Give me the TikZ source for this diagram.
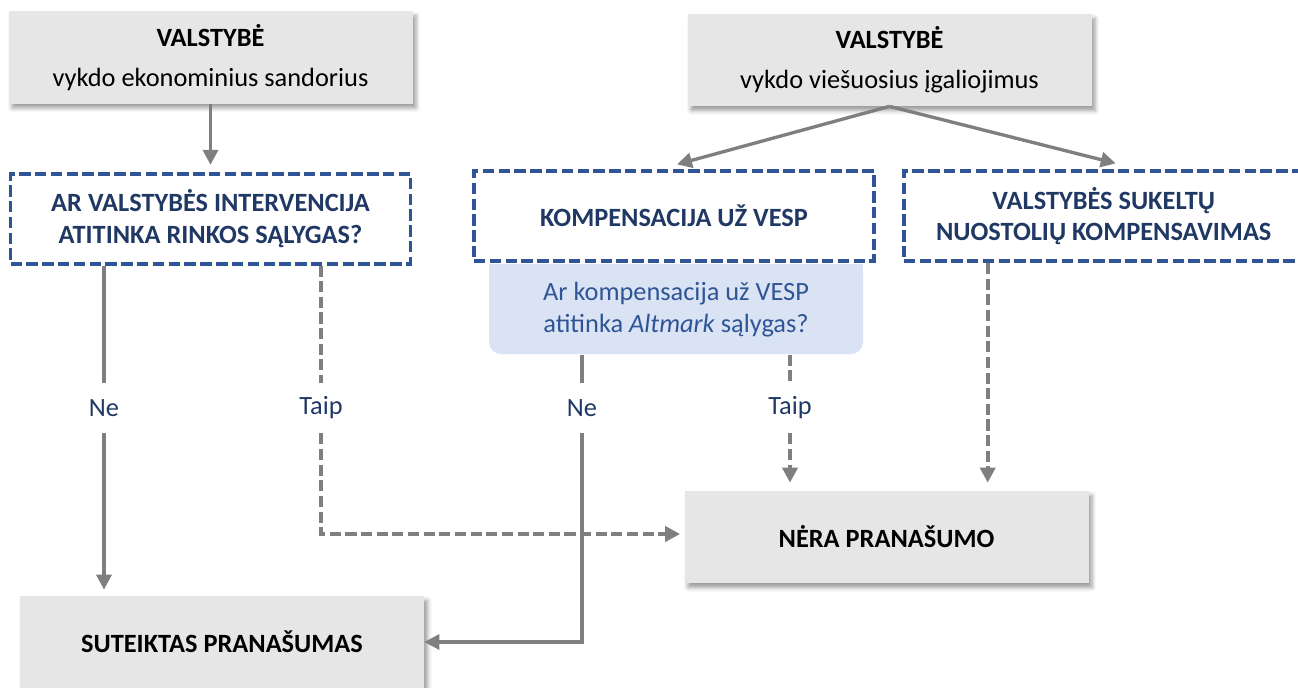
\documentclass[tikz,border=0pt]{standalone}
\usepackage{fontspec}
\setmainfont{Carlito}
\usepackage{tikz}
\usetikzlibrary{arrows.meta,positioning,shadows.blur}
\definecolor{colorBox}{RGB}{231,230,230}
\definecolor{colorB}{RGB}{47,85,151}
\definecolor{colorN}{RGB}{32,56,100}
\definecolor{colorL}{RGB}{218,227,243}
\definecolor{colorGy}{RGB}{127,127,127}
\newcommand{\boxfont}{\fontsize{15}{18}\selectfont}
\tikzstyle{grey}=[fill=colorBox, minimum width=8.08cm, minimum height=1.84cm, align=center, inner sep=0pt, blur shadow={shadow xshift=2pt, shadow yshift=-2.5pt, shadow blur radius=2.5pt, shadow opacity=40}]
\tikzstyle{qbox}=[draw=colorB, line width=2.1pt, dash pattern=on 6.5pt off 2.5pt, fill=white, minimum width=8cm, minimum height=1.8cm, align=center, inner sep=0pt, text=colorN, font=\boxfont\bfseries]
\tikzstyle{lab}=[text=colorN, minimum height=1cm, inner sep=0pt]
\tikzstyle{conn}=[draw=colorGy, line width=1.9pt]
\tikzstyle{dconn}=[conn, line width=2.2pt, dash pattern=on 6.3pt off 2.6pt]
\tikzstyle{arr}=[-{Triangle[length=8.5pt,width=8.5pt]}]

\begin{document}
\begin{tikzpicture}[font=\boxfont]
\useasboundingbox (0,0) rectangle (25.96,-13.74);

% state as market operator
\node[grey] (stateEcon) at (4.21,-1.15) {\textbf{VALSTYBĖ}\\[5pt]vykdo ekonominius sandorius};
\node[qbox,below=1.36cm of stateEcon] (marketTest) {AR VALSTYBĖS INTERVENCIJA\\ATITINKA RINKOS SĄLYGAS?};

% state as public authority
\node[grey] (statePublic) at (17.79,-1.20) {\textbf{VALSTYBĖ}\\[5pt]vykdo viešuosius įgaliojimus};
\node[qbox,below=1.26cm of statePublic,xshift=-4.31cm] (sgeiComp) {KOMPENSACIJA UŽ VESP};
\node[qbox,right=0.52cm of sgeiComp] (lossComp) {VALSTYBĖS SUKELTŲ\\NUOSTOLIŲ KOMPENSAVIMAS};

% altmark test
\coordinate (altTop) at ([xshift=0.04cm,yshift=-0.02cm]sgeiComp.south);
\fill[colorL,rounded corners=0.24cm] ([xshift=-3.74cm]altTop) rectangle ([xshift=3.74cm,yshift=-1.8cm]altTop);
\fill[colorL] ([xshift=-3.74cm]altTop) rectangle ([xshift=3.74cm,yshift=-0.9cm]altTop);
\node[below=0pt of altTop,minimum width=7.48cm,minimum height=1.8cm,align=center,inner sep=0pt,text=colorB] (altmark) {Ar kompensacija už VESP\\atitinka \textit{Altmark} sąlygas?};

% outcomes
\node[grey] (noAdv) at (17.73,-10.74) {\textbf{NĖRA PRANAŠUMO}};
\node[grey] (adv) at (4.44,-12.84) {\textbf{SUTEIKTAS PRANAŠUMAS}};

% answers
\node[lab] (noLeft) at (2.08,-8.16) {Ne};
\node[lab] (yesLeft) at (6.42,-8.16) {Taip};
\node[lab] (noMid) at (11.64,-8.16) {Ne};
\node[lab] (yesMid) at (15.80,-8.16) {Taip};
\coordinate (lossOut) at ([xshift=-2.32cm]lossComp.south);

\draw[conn,arr,shorten >=0.14cm] (stateEcon) -- (marketTest);
\draw[conn,arr] (statePublic.south) -- ([xshift=0.06cm,yshift=0.1cm]sgeiComp.north);
\draw[conn,arr] (statePublic.south) -- ([xshift=0.24cm,yshift=0.12cm]lossComp.north);

\draw[conn] (marketTest.south -| noLeft) -- (noLeft);
\draw[conn,arr,shorten >=0.12cm] (noLeft) -- (adv.north -| noLeft);
\draw[dconn] (marketTest.south -| yesLeft) -- (yesLeft);
\draw[dconn,arr,shorten >=0.08cm] (yesLeft) |- ([yshift=0.06cm]noAdv.west);

\draw[conn] (altmark.south -| noMid) -- (noMid);
\draw[conn,arr] (noMid) |- (adv.east);
\draw[dconn] (altmark.south -| yesMid) -- (yesMid);
\draw[dconn,arr,shorten >=0.16cm] (yesMid) -- (noAdv.north -| yesMid);
\draw[dconn,arr,shorten >=0.16cm] (lossOut) -- (lossOut |- noAdv.north);

\end{tikzpicture}
\end{document}
